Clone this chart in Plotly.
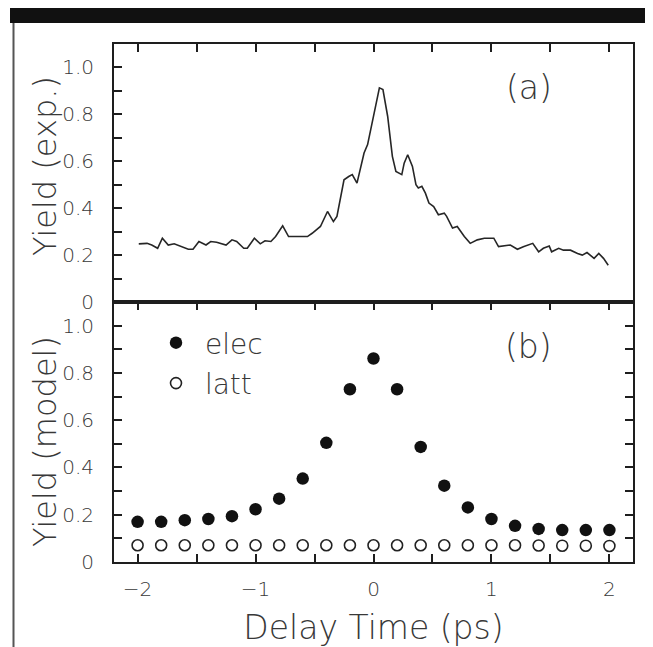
import plotly.graph_objects as go

# ---- data ----
exp_time = [-1.99, -1.92, -1.88, -1.83, -1.79, -1.74, -1.69, -1.64, -1.57, -1.53,
            -1.48, -1.42, -1.38, -1.33, -1.25, -1.20, -1.16, -1.10, -1.07, -1.01,
            -0.96, -0.92, -0.87, -0.83, -0.77, -0.72, -0.65, -0.56, -0.52, -0.45,
            -0.39, -0.34, -0.31, -0.25, -0.21, -0.18, -0.14, -0.08, -0.05, 0.00,
            0.05, 0.08, 0.12, 0.16, 0.19, 0.24, 0.26, 0.29, 0.33, 0.36,
            0.38, 0.41, 0.44, 0.47, 0.51, 0.55, 0.60, 0.62, 0.67, 0.71,
            0.77, 0.82, 0.88, 0.94, 1.02, 1.06, 1.11, 1.16, 1.22, 1.27,
            1.35, 1.40, 1.44, 1.49, 1.51, 1.57, 1.61, 1.67, 1.73, 1.77,
            1.81, 1.87, 1.91, 1.95, 1.99]
exp_yield = [0.248, 0.250, 0.243, 0.229, 0.272, 0.243, 0.248, 0.239, 0.225, 0.225,
             0.258, 0.243, 0.258, 0.255, 0.243, 0.265, 0.258, 0.229, 0.229, 0.272,
             0.248, 0.261, 0.258, 0.279, 0.325, 0.279, 0.279, 0.279, 0.293, 0.322,
             0.386, 0.343, 0.365, 0.521, 0.535, 0.543, 0.507, 0.635, 0.671, 0.795,
             0.913, 0.906, 0.792, 0.621, 0.557, 0.543, 0.592, 0.628, 0.578, 0.500,
             0.486, 0.493, 0.464, 0.422, 0.407, 0.372, 0.379, 0.365, 0.315, 0.322,
             0.279, 0.250, 0.265, 0.272, 0.272, 0.236, 0.239, 0.243, 0.225, 0.236,
             0.250, 0.214, 0.229, 0.239, 0.214, 0.229, 0.221, 0.221, 0.207, 0.200,
             0.211, 0.186, 0.207, 0.186, 0.157]

model_time = [-2.0, -1.8, -1.6, -1.4, -1.2, -1.0, -0.8, -0.6, -0.4, -0.2, 0.0,
              0.2, 0.4, 0.6, 0.8, 1.0, 1.2, 1.4, 1.6, 1.8, 2.0]
elec_yield = [0.170, 0.170, 0.177, 0.182, 0.194, 0.223, 0.268, 0.353, 0.504, 0.731, 0.861,
              0.731, 0.487, 0.323, 0.231, 0.182, 0.153, 0.140, 0.135, 0.135, 0.135]
latt_yield = [0.071, 0.071, 0.071, 0.071, 0.071, 0.071, 0.071, 0.071, 0.071, 0.071, 0.071,
              0.071, 0.071, 0.071, 0.071, 0.071, 0.071, 0.070, 0.069, 0.069, 0.068]

x_tickvals = [-2, -1.5, -1, -0.5, 0, 0.5, 1, 1.5, 2]
x_ticktext = ["\u22122", "", "\u22121", "", "0", "", "1", "", "2"]
y_tickvals = [0, 0.1, 0.2, 0.3, 0.4, 0.5, 0.6, 0.7, 0.8, 0.9, 1.0]
y_ticktext = ["0", "", "0.2", "", "0.4", "", "0.6", "", "0.8", "", "1.0"]

FONT = "DejaVu Sans"
TXT = "#383838"
LINE = "#1e1e1e"

# page body has an 8 px margin: the figure is drawn from screen (8, 8)
W, H = 645, 639
def px(sx):
    return (sx - 8) / W
def py(sy):
    return 1 - (sy - 8) / H

fig = go.Figure()

fig.add_trace(go.Scatter(x=exp_time, y=exp_yield, mode="lines",
                         line=dict(color="#262626", width=1.6),
                         xaxis="x2", yaxis="y2", showlegend=False))

fig.add_trace(go.Scatter(x=model_time, y=elec_yield, mode="markers", name="\u00a0elec",
                         legendgroup="e",
                         marker=dict(symbol="circle", size=12.5, color="#111111"),
                         xaxis="x", yaxis="y"))
fig.add_trace(go.Scatter(x=model_time, y=latt_yield, mode="markers", name="\u00a0latt",
                         legendgroup="l",
                         marker=dict(symbol="circle-open", size=11, color="#222222",
                                     line=dict(width=1.6)),
                         xaxis="x", yaxis="y"))

xdom = [px(114), px(633)]
ya_dom = [py(302), py(44)]
yb_dom = [py(562), py(302)]

def tfont(size):
    return dict(family=FONT, size=size, color=TXT, weight=200)

common_x = dict(range=[-2.2, 2.2], tickmode="array", tickvals=x_tickvals,
                ticktext=x_ticktext, ticks="inside", ticklen=8, tickwidth=1.5,
                tickcolor=LINE, showline=True, linecolor=LINE, linewidth=2,
                showgrid=False, zeroline=False, domain=xdom, automargin=False,
                tickfont=tfont(20))
common_y = dict(range=[0, 1.1], tickmode="array", tickvals=y_tickvals,
                ticktext=y_ticktext, ticks="inside", ticklen=8, tickwidth=1.5,
                tickcolor=LINE, showline=True, linecolor=LINE, linewidth=2,
                showgrid=False, zeroline=False, automargin=False,
                tickfont=tfont(20))

fig.update_layout(
    width=W, height=H,
    margin=dict(l=0, r=0, t=0, b=0, autoexpand=False),
    paper_bgcolor="white", plot_bgcolor="white",
    xaxis=dict(common_x, anchor="y", mirror="ticks", ticklabelstandoff=8,
               title=dict(text="Delay Time (ps)", standoff=16, font=tfont(33))),
    xaxis2=dict(common_x, anchor="y2", side="top", mirror=True,
                showticklabels=False, matches="x"),
    yaxis=dict(common_y, anchor="x", domain=yb_dom, mirror="ticks",
               ticklabelstandoff=14),
    yaxis2=dict(common_y, anchor="x2", domain=ya_dom, mirror=True,
                ticklabelstandoff=14),
    legend=dict(x=px(156), y=py(318), xanchor="left", yanchor="top",
                bgcolor="rgba(0,0,0,0)", traceorder="grouped", tracegroupgap=1,
                font=tfont(28)),
    annotations=[
        dict(text="Yield (exp.)", x=px(45), y=py(166), xref="paper", yref="paper",
             textangle=-90, xanchor="center", yanchor="middle", showarrow=False,
             font=tfont(32)),
        dict(text="Yield (model)", x=px(45), y=py(442), xref="paper", yref="paper",
             textangle=-90, xanchor="center", yanchor="middle", showarrow=False,
             font=tfont(32)),
        dict(text="(a)", x=0.80, y=0.833, xref="x2 domain", yref="y2 domain",
             xanchor="center", yanchor="middle",
             showarrow=False, font=tfont(33)),
        dict(text="(b)", x=0.798, y=0.827, xref="x domain", yref="y domain",
             xanchor="center", yanchor="middle",
             showarrow=False, font=tfont(33)),
    ],
    shapes=[
        dict(type="rect", xref="paper", yref="paper", x0=px(10), x1=1.0,
             y0=py(23), y1=py(8), fillcolor="#111111", line=dict(width=0)),
        dict(type="line", xref="paper", yref="paper", x0=px(13.5), x1=px(13.5),
             y0=0, y1=py(23), line=dict(color="#555555", width=2)),
        dict(type="line", xref="paper", yref="paper", x0=px(651.5), x1=px(651.5),
             y0=0, y1=py(23), line=dict(color="#888888", width=1.5)),
    ],
)

fig.write_html(
    "out.html",
    post_script="document.documentElement.style.overflow='hidden';"
                "document.body.style.overflow='hidden';",
)
